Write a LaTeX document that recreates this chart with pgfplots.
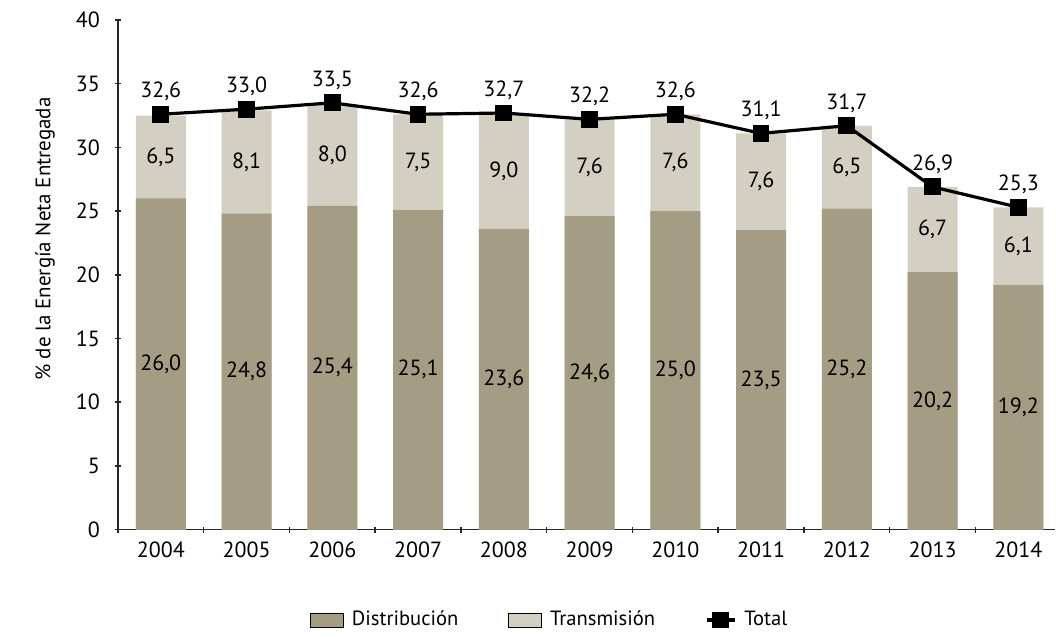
\documentclass[border=0pt]{standalone}
\usepackage{fontspec}
\setmainfont{PT Sans}
\usepackage{pgfplots}
\usepackage{pgfplotstable}
\pgfplotsset{compat=1.18}
\definecolor{dist}{HTML}{A59C84}
\definecolor{trans}{HTML}{D3D0C3}

\pgfplotstableread{
x dist trans total
0 26.0 6.5 32.6
1 24.8 8.1 33.0
2 25.4 8.0 33.5
3 25.1 7.5 32.6
4 23.6 9.0 32.7
5 24.6 7.6 32.2
6 25.0 7.6 32.6
7 23.5 7.6 31.1
8 25.2 6.5 31.7
9 20.2 6.7 26.9
10 19.2 6.1 25.3
}\datatable

\pgfplotsset{
  patchlegend/.style={legend image code/.code={\fill[##1] (0pt,-3.5pt) rectangle (16.5pt,3.5pt);}},
  linelegend/.style={legend image code/.code={\draw[##1] plot coordinates {(0pt,0pt) (7pt,0pt) (14pt,0pt)};}},
}

\begin{document}
\begin{tikzpicture}[font=\fontsize{11}{13}\selectfont]
\begin{axis}[
  at={(0,0)}, anchor=south west,
  scale only axis, width=469pt, height=255pt,
  xmin=-0.5, xmax=10.43, ymin=0, ymax=40,
  ytick={0,5,...,40},
  xtick={0,...,10},
  xticklabels={2004,2005,2006,2007,2008,2009,2010,2011,2012,2013,2014},
  major x tick style={draw=none},
  minor xtick={-0.5,0.5,...,9.5},
  tick align=outside,
  major tick length=3pt, minor tick length=3pt,
  tick style={black!85, line width=0.8pt},
  axis x line=bottom, axis y line=left,
  axis line style={-, line width=0.8pt, black!85},
  yticklabel style={xshift=-4pt},
  xticklabel style={yshift=-1pt},
  /pgf/number format/assume math mode=true,
  ylabel={\% de la Energía Neta Entregada},
  every axis y label/.style={at={(axis description cs:-0.0778,0.57)}, rotate=90, anchor=center, font=\fontsize{10.5}{12}\selectfont},
  legend columns=3,
  legend style={at={(axis description cs:0.2047,-0.1775)}, anchor=west, draw=none, fill=none, inner sep=0pt,
    font=\fontsize{10.3}{12}\selectfont,
    /tikz/every odd column/.append style={column sep=2pt},
    /tikz/every even column/.append style={column sep=23pt}},
  legend cell align=left,
  nodes near coords={\pgfmathprintnumber[fixed, fixed zerofill, precision=1, use comma]{\pgfplotspointmeta}},
  clip=false,
]
% Transmision (stacked on distribucion): top at dist+trans
\addplot[ybar, bar width=25pt, bar shift=0pt, fill=trans, draw=none, forget plot, nodes near coords={}]
  table[x=x, y expr=\thisrow{dist}+\thisrow{trans}] {\datatable};
\addplot[ybar, bar width=25pt, bar shift=0pt, fill=dist, draw=none, forget plot, nodes near coords={}]
  table[x=x, y=dist] {\datatable};
% labels
\addplot[only marks, mark=none, forget plot, point meta=explicit,
  every node near coord/.append style={anchor=center}]
  table[x=x, y expr=\thisrow{dist}/2, meta=dist] {\datatable};
\addplot[only marks, mark=none, forget plot, point meta=explicit,
  every node near coord/.append style={anchor=center}]
  table[x=x, y expr=\thisrow{dist}+\thisrow{trans}/2, meta=trans] {\datatable};
% total
\addplot[black, line width=1.6pt, mark=square*, mark size=3.4pt, forget plot, point meta=explicit,
  every node near coord/.append style={anchor=south, yshift=2.5pt}]
  table[x=x, y=total, meta=total] {\datatable};

\addlegendimage{patchlegend, fill=dist}
\addlegendentry{Distribución}
\addlegendimage{patchlegend, fill=trans}
\addlegendentry{Transmisión}
\addlegendimage{linelegend, black, line width=1.6pt, mark=square*, mark size=3.4pt, mark repeat=2, mark phase=2}
\addlegendentry{Total}
\end{axis}
\path[use as bounding box] (-59pt,-53.5pt) rectangle (469pt,265pt);
\end{tikzpicture}
\end{document}
